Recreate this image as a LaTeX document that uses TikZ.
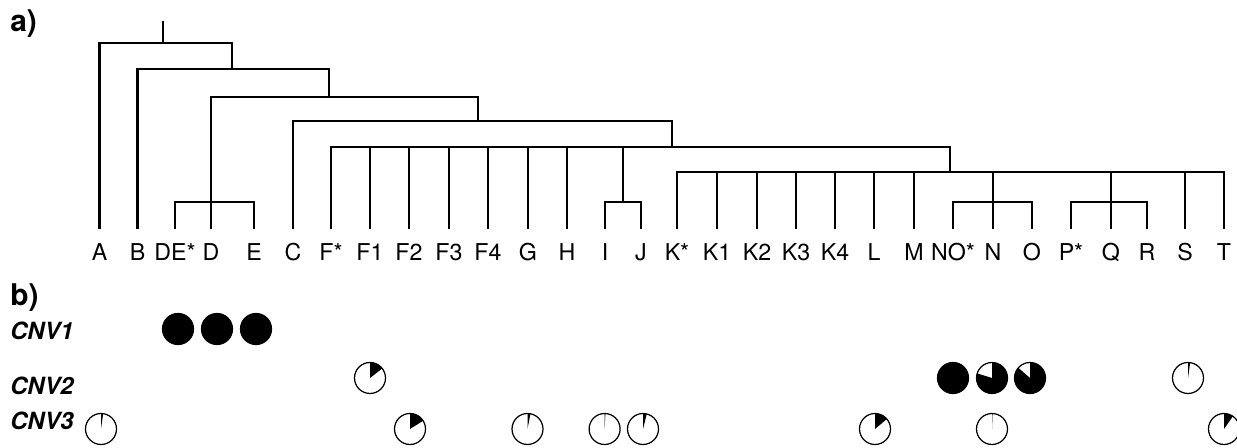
\documentclass[tikz,border=0pt]{standalone}
\usepackage{fontspec}
\setmainfont{TeX Gyre Heros}
\begin{document}
\begin{tikzpicture}[x=0.02cm, y=0.02cm,
    branch/.style={line width=1.6pt},
    leaf/.style={anchor=base, inner sep=0pt, font=\fontsize{13.2}{15}\selectfont},
    rowlabel/.style={anchor=base west, inner sep=0pt, font=\fontsize{13.5}{16}\selectfont\bfseries\itshape},
    panel/.style={anchor=base west, inner sep=0pt, font=\fontsize{17}{20}\selectfont\bfseries},
    ring/.style={line width=0.7pt}]
    \useasboundingbox (0,0) rectangle (1237,448);
    \node[panel] (pa) at (10,416) {a)};
    \node[panel] (pb) at (10,142) {b)};
    \foreach \n/\lab/\x in {A/A/99.5, B/B/137.5, DEs/DE*/175, D/D/211, E/E/254, C/C/293,
        Fs/F*/331, F1/F1/370, F2/F2/409, F3/F3/449, F4/F4/488, G/G/528, H/H/567,
        I/I/605, J/J/641, Ks/K*/677, K1/K1/717, K2/K2/757, K3/K3/796, K4/K4/835,
        L/L/874, M/M/914, NOs/NO*/953, N/N/993, O/O/1032, Ps/P*/1071, Q/Q/1111,
        R/R/1147, S/S/1185, T/T/1224} {
        \coordinate (\n) at (\x,219);
        \node[leaf] (l-\n) at (\x,187) {\lab};
    }
    \coordinate (top) at (163,427);
    \coordinate (c1) at (163,405);
    \coordinate (c2) at (232,379);
    \coordinate (c3) at (329,351);
    \coordinate (c4) at (478,327);
    \coordinate (c5) at (672,301);
    \coordinate (c6) at (950,276);
    \coordinate (cDE) at (211,246);
    \coordinate (cIJ) at (623,246);
    \coordinate (cNO) at (993,246);
    \coordinate (cPQ) at (1111,246);
    \draw[branch] (top) -- (c1);
    \foreach \k in {A,c2} \draw[branch] (c1) -| (\k);
    \foreach \k in {B,c3} \draw[branch] (c2) -| (\k);
    \foreach \k in {cDE,c4} \draw[branch] (c3) -| (\k);
    \foreach \k in {C,c5} \draw[branch] (c4) -| (\k);
    \foreach \k in {Fs,F1,F2,F3,F4,G,H,cIJ,c6} \draw[branch] (c5) -| (\k);
    \foreach \k in {Ks,K1,K2,K3,K4,L,M,cNO,cPQ,S,T} \draw[branch] (c6) -| (\k);
    \foreach \k in {DEs,D,E} \draw[branch] (cDE) -| (\k);
    \foreach \k in {I,J} \draw[branch] (cIJ) -| (\k);
    \foreach \k in {NOs,N,O} \draw[branch] (cNO) -| (\k);
    \foreach \k in {Ps,Q,R} \draw[branch] (cPQ) -| (\k);
    \node[rowlabel] (cnv1) at (10,108) {CNV1};
    \node[rowlabel] (cnv2) at (10,53) {CNV2};
    \node[rowlabel] (cnv3) at (10,18) {CNV3};
    \foreach \x/\y/\d in {178/119/360, 217/119/360, 256/119/360,
        370/70/52, 953/70/360, 992/70/287, 1030/70/311, 1188/70/8,
        101/19/8, 410/19/58, 527.5/19/11, 604.6/19/3, 643/19/14, 875/19/50, 992/19/2, 1224/19/35} {
        \fill (\x,\y) -- ++(90:0.31cm) arc[start angle=90, delta angle=-\d, radius=0.31cm] -- cycle;
        \draw[ring] (\x,\y) circle[radius=0.31cm];
    }
\end{tikzpicture}
\end{document}
